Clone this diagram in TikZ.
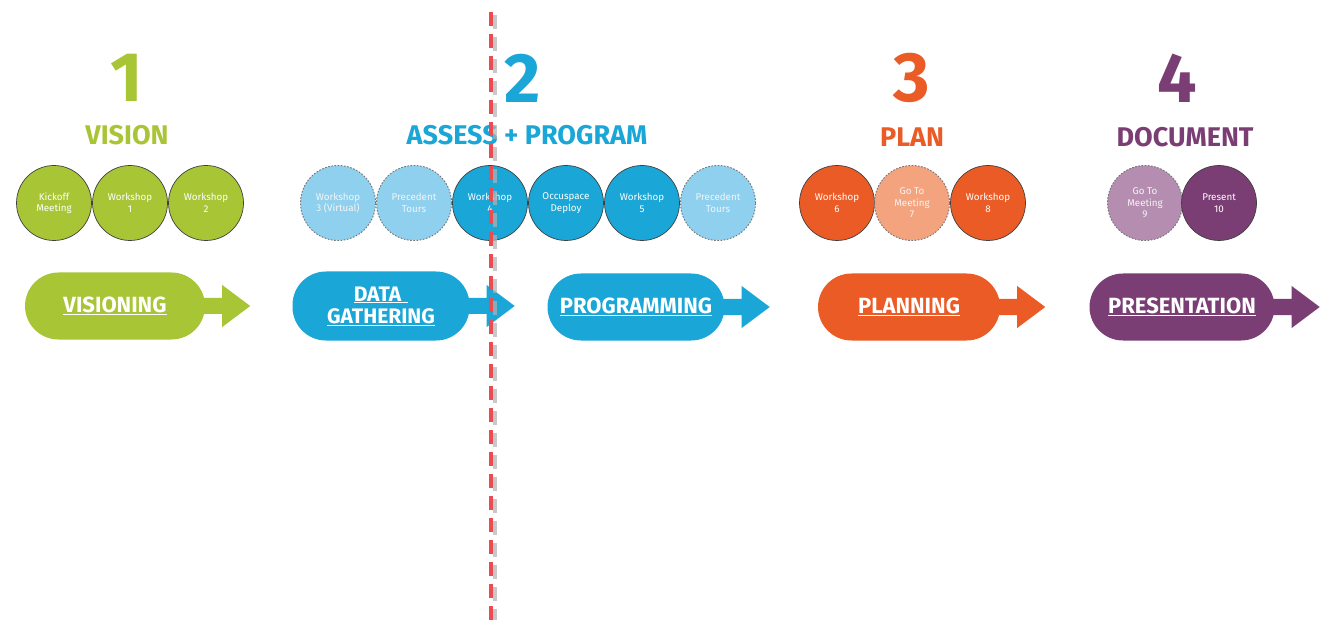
\documentclass[tikz,border=0pt]{standalone}
\usepackage{fontspec}
\setmainfont{Fira Sans}
\definecolor{cgreen}{HTML}{A8C536}
\definecolor{cblue}{HTML}{1AA6D6}
\definecolor{clblue}{HTML}{8FD0EE}
\definecolor{corange}{HTML}{EA5B25}
\definecolor{clorange}{HTML}{F4A37F}
\definecolor{cpurple}{HTML}{7A3E74}
\definecolor{clpurple}{HTML}{B48DB0}
\definecolor{cred}{HTML}{EC4B50}
\tikzset{
  circ/.style={circle, minimum size=75pt, inner sep=0pt, draw=black!75, line width=0.7pt, text=white, font=\fontsize{9.8}{11.5}\selectfont, align=center},
  dcirc/.style={circ, draw=black!55, dash pattern=on 1.6pt off 1.6pt, line width=0.9pt, text=white!92!gray},
  pill/.style={rectangle, rounded corners=33.5pt, minimum width=180pt, minimum height=67pt, inner sep=0pt, text=white, align=center, font=\bfseries\fontsize{22}{25}\selectfont},
  bignum/.style={font=\bfseries\fontsize{70}{70}\selectfont, inner sep=0pt},
  phase/.style={font=\bfseries\fontsize{27}{30}\selectfont, inner sep=0pt},
}
\newcommand{\pillarrow}[2]{%
  \fill[#2] ([xshift=-3pt,yshift=8pt]#1.east) -- ([xshift=17pt,yshift=8pt]#1.east) -- ([xshift=17pt,yshift=21pt]#1.east) -- ([xshift=45pt]#1.east) -- ([xshift=17pt,yshift=-21pt]#1.east) -- ([xshift=17pt,yshift=-8pt]#1.east) -- ([xshift=-3pt,yshift=-8pt]#1.east) -- cycle;}
\begin{document}
\begin{tikzpicture}[x=1pt,y=-1pt]
\useasboundingbox (0,0) rectangle (1325,620);
\fill[white] (0,0) rectangle (1325,620);

% headings
\node[bignum, text=cgreen] (n1) at (127,78) {1};
\node[phase, text=cgreen] (h1) at (127,135) {VISION};
\node[bignum, text=cblue] (n2) at (523,78) {2};
\node[phase, text=cblue] (h2) at (527,135) {ASSESS + PROGRAM};
\node[bignum, text=corange] (n3) at (912,78) {3};
\node[phase, text=corange] (h3) at (912,137) {PLAN};
\node[bignum, text=cpurple] (n4) at (1177,78) {4};
\node[phase, text=cpurple] (h4) at (1185,137) {DOCUMENT};

% circles
\node[circ, fill=cgreen] (c1) at (54,203) {Kickoff\\Meeting};
\node[circ, fill=cgreen] (c2) at (130,203) {Workshop\\1};
\node[circ, fill=cgreen] (c3) at (206,203) {Workshop\\2};

\node[dcirc, fill=clblue] (c4) at (338,203) {Workshop\\3 (Virtual)};
\node[dcirc, fill=clblue] (c5) at (414,203) {Precedent\\Tours};
\node[circ, fill=cblue] (c6) at (490,203) {Workshop\\4};
\node[circ, fill=cblue] (c7) at (566,203) {Occuspace\\Deploy};
\node[circ, fill=cblue] (c8) at (642,203) {Workshop\\5};
\node[dcirc, fill=clblue] (c9) at (718,203) {Precedent\\Tours};

\node[circ, fill=corange] (c10) at (837,203) {Workshop\\6};
\node[dcirc, fill=clorange] (c11) at (912,203) {Go To\\Meeting\\7};
\node[circ, fill=corange] (c12) at (988,203) {Workshop\\8};

\node[dcirc, fill=clpurple] (c13) at (1145,203) {Go To\\Meeting\\9};
\node[circ, fill=cpurple] (c14) at (1219,203) {Present\\10};

% pills
\node[pill, fill=cgreen] (p1) at (115,306) {\underline{VISIONING}};
\pillarrow{p1}{cgreen}
\node[pill, fill=cblue, minimum width=177pt, minimum height=69pt, font=\bfseries\fontsize{21}{23}\selectfont] (p2) at (381,306) {\underline{DATA\,\,}\\[-1pt]\underline{GATHERING}};
\pillarrow{p2}{cblue}
\node[pill, fill=cblue, minimum width=177pt] (p3) at (636,307) {\underline{PROGRAMMING}};
\pillarrow{p3}{cblue}
\node[pill, fill=corange, minimum width=182pt] (p4) at (909,307) {\underline{PLANNING}};
\pillarrow{p4}{corange}
\node[pill, fill=cpurple, minimum width=185pt] (p5) at (1182,307) {\underline{PRESENTATION}};
\pillarrow{p5}{cpurple}

% red dashed divider with shadow
\coordinate (dtop) at (491,12);
\coordinate (dbot) at (491,620);
\draw[black!30, line width=4pt, dash pattern=on 14pt off 8pt, opacity=0.7] ([xshift=4pt,yshift=-3pt]dtop) -- ([xshift=4pt]dbot);
\draw[cred, line width=4pt, dash pattern=on 14pt off 8pt] (dtop) -- (dbot);
\end{tikzpicture}
\end{document}
